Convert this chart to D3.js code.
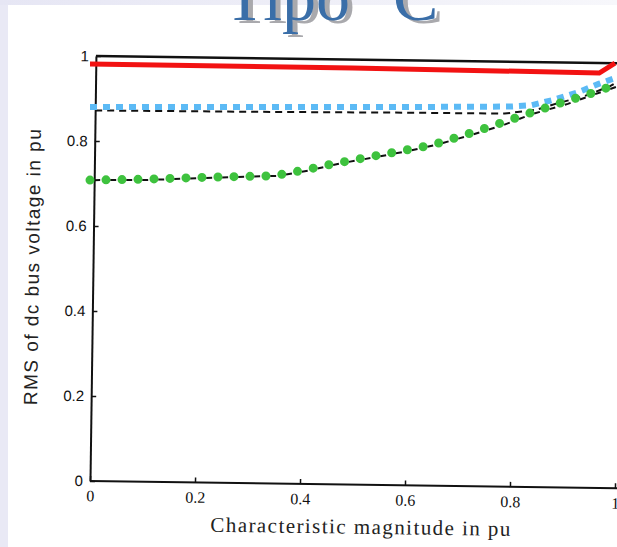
<!DOCTYPE html>
<html>
<head>
<meta charset="utf-8">
<script src="https://cdn.jsdelivr.net/npm/d3@7"></script>
<style>
  html, body { margin: 0; padding: 0; background: #e9e9f5; overflow: hidden; }
  svg { display: block; }
</style>
</head>
<body>
<div id="chart"></div>
<script>
const xTicks = [0, 0.2, 0.4, 0.6, 0.8, 1];
const yTicks = [0, 0.2, 0.4, 0.6, 0.8, 1];

// black curves of the scanned figure
const dashedX = [0, 0.3, 0.6, 0.78, 0.84, 0.88, 0.93, 0.98, 1];
const dashedY = [0.872, 0.874, 0.877, 0.878, 0.888, 0.904, 0.921, 0.946, 0.96];
const dashDotX = [0, 0.1, 0.23, 0.35, 0.41, 0.47, 0.53, 0.59, 0.65, 0.72, 0.78, 0.83, 0.9, 0.95, 1];
const dashDotY = [0.708, 0.71, 0.718, 0.724, 0.738, 0.756, 0.77, 0.785, 0.802, 0.828, 0.852, 0.877, 0.903, 0.926, 0.948];

// coloured overlays
const redX = [0, 0.5, 0.97, 1];
const redY = [0.981, 0.972, 0.96, 0.983];
const blueX = [0, 0.2, 0.4, 0.6, 0.8, 0.84, 0.88, 0.93, 0.97, 1];
const blueY = [0.88, 0.88, 0.88, 0.88, 0.881, 0.884, 0.896, 0.915, 0.935, 0.948];
const greenX = [0, 0.1, 0.23, 0.35, 0.41, 0.47, 0.53, 0.59, 0.653, 0.718, 0.777, 0.834, 0.895, 0.952, 1];
const greenY = [0.708, 0.71, 0.715, 0.718, 0.732, 0.748, 0.762, 0.776, 0.791, 0.816, 0.84, 0.864, 0.889, 0.911, 0.932];

const W = 617, H = 547;
const zip = (xs, ys) => xs.map((v, i) => [v, ys[i]]);

const svg = d3.select("#chart").append("svg")
    .attr("width", W)
    .attr("height", H);

const defs = svg.append("defs");
const grad = defs.append("linearGradient").attr("id", "topStrip");
grad.append("stop").attr("offset", "0%").attr("stop-color", "#e6e6f4");
grad.append("stop").attr("offset", "100%").attr("stop-color", "#f7f7fb");

svg.append("rect").attr("width", W).attr("height", H).attr("fill", "#e9e9f5");
svg.append("rect").attr("width", W).attr("height", 5).attr("fill", "url(#topStrip)");
svg.append("rect").attr("x", 8).attr("y", 5).attr("width", W - 8).attr("height", H - 5).attr("fill", "#fff");

const x = d3.scaleLinear().domain([0, 1]).range([90, 615]);
const y = d3.scaleLinear().domain([0, 1]).range([481, 56]);

const line = d3.line().x(d => x(d[0])).y(d => y(d[1]));
const fmt = d => d === 0 ? "0" : d === 1 ? "1" : d.toFixed(1);

// the scan is a little tilted
const scan = svg.append("g").attr("transform", "rotate(0.8, 90, 481)");

scan.append("line")
    .attr("x1", x(0)).attr("x2", x(1) + 10)
    .attr("y1", y(1)).attr("y2", y(1))
    .attr("stroke", "#111").attr("stroke-width", 2.5);

const yAxis = scan.append("g")
    .attr("transform", `translate(${x(0)},0)`)
    .call(d3.axisLeft(y).tickValues(yTicks).tickFormat(fmt)
        .tickSizeInner(-5).tickSizeOuter(0).tickPadding(7));

const xAxis = scan.append("g")
    .attr("transform", `translate(0,${y(0)})`)
    .call(d3.axisBottom(x).tickValues(xTicks).tickFormat(fmt)
        .tickSizeInner(-5).tickSizeOuter(0).tickPadding(9));

[yAxis, xAxis].forEach(a => {
    a.select(".domain").attr("stroke", "#111").attr("stroke-width", 2);
    a.selectAll(".tick line").attr("stroke", "#111").attr("stroke-width", 1.5);
    a.selectAll(".tick text").attr("fill", "#111");
});
yAxis.selectAll(".tick text")
    .attr("font-family", "Liberation Sans, Arial, sans-serif")
    .attr("font-size", 15);
xAxis.selectAll(".tick text")
    .attr("font-family", "Liberation Serif, serif")
    .attr("font-size", 16);
xAxis.select(".domain").attr("d", `M${x(0)},0H${W + 10}`);

scan.append("text")
    .attr("transform", "translate(36,268) rotate(-90)")
    .attr("text-anchor", "middle")
    .attr("font-family", "Liberation Sans, Arial, sans-serif")
    .attr("font-size", 19)
    .attr("textLength", 276)
    .attr("fill", "#222")
    .text("RMS of dc bus voltage in pu");

scan.append("text")
    .attr("x", 361).attr("y", 530)
    .attr("text-anchor", "middle")
    .attr("font-family", "Liberation Serif, serif")
    .attr("font-size", 21)
    .attr("textLength", 300)
    .attr("fill", "#222")
    .text("Characteristic magnitude in pu");

scan.append("path")
    .attr("d", line(zip(dashedX, dashedY)))
    .attr("fill", "none").attr("stroke", "#111")
    .attr("stroke-width", 2).attr("stroke-dasharray", "7,5");

scan.append("path")
    .attr("d", line(zip(dashDotX, dashDotY)))
    .attr("fill", "none").attr("stroke", "#111")
    .attr("stroke-width", 2).attr("stroke-dasharray", "6,4,2,4");

// overlays drawn straight over the scan
svg.append("path")
    .attr("d", line(zip(redX, redY)))
    .attr("fill", "none").attr("stroke", "#f21212")
    .attr("stroke-width", 5);

svg.append("path")
    .attr("d", line(zip(blueX, blueY)))
    .attr("fill", "none").attr("stroke", "#5cbaf5")
    .attr("stroke-width", 6).attr("stroke-dasharray", "7,6");

svg.append("path")
    .attr("d", line(zip(greenX, greenY)))
    .attr("fill", "none").attr("stroke", "#3ec23e")
    .attr("stroke-width", 9).attr("stroke-linecap", "round")
    .attr("stroke-dasharray", "0,16");

// title, mostly cut off at the top
const titleParts = [["Tipo", 224], ["C", 393]];
titleParts.forEach(([t, tx]) => {
    svg.append("text")
        .attr("x", tx + 5).attr("y", 23)
        .attr("font-family", "Liberation Serif, serif")
        .attr("font-size", 68)
        .attr("fill", "#a9a9ad")
        .text(t);
    svg.append("text")
        .attr("x", tx).attr("y", 20)
        .attr("font-family", "Liberation Serif, serif")
        .attr("font-size", 68)
        .attr("fill", "#3a6ea8")
        .text(t);
});
</script>
</body>
</html>
